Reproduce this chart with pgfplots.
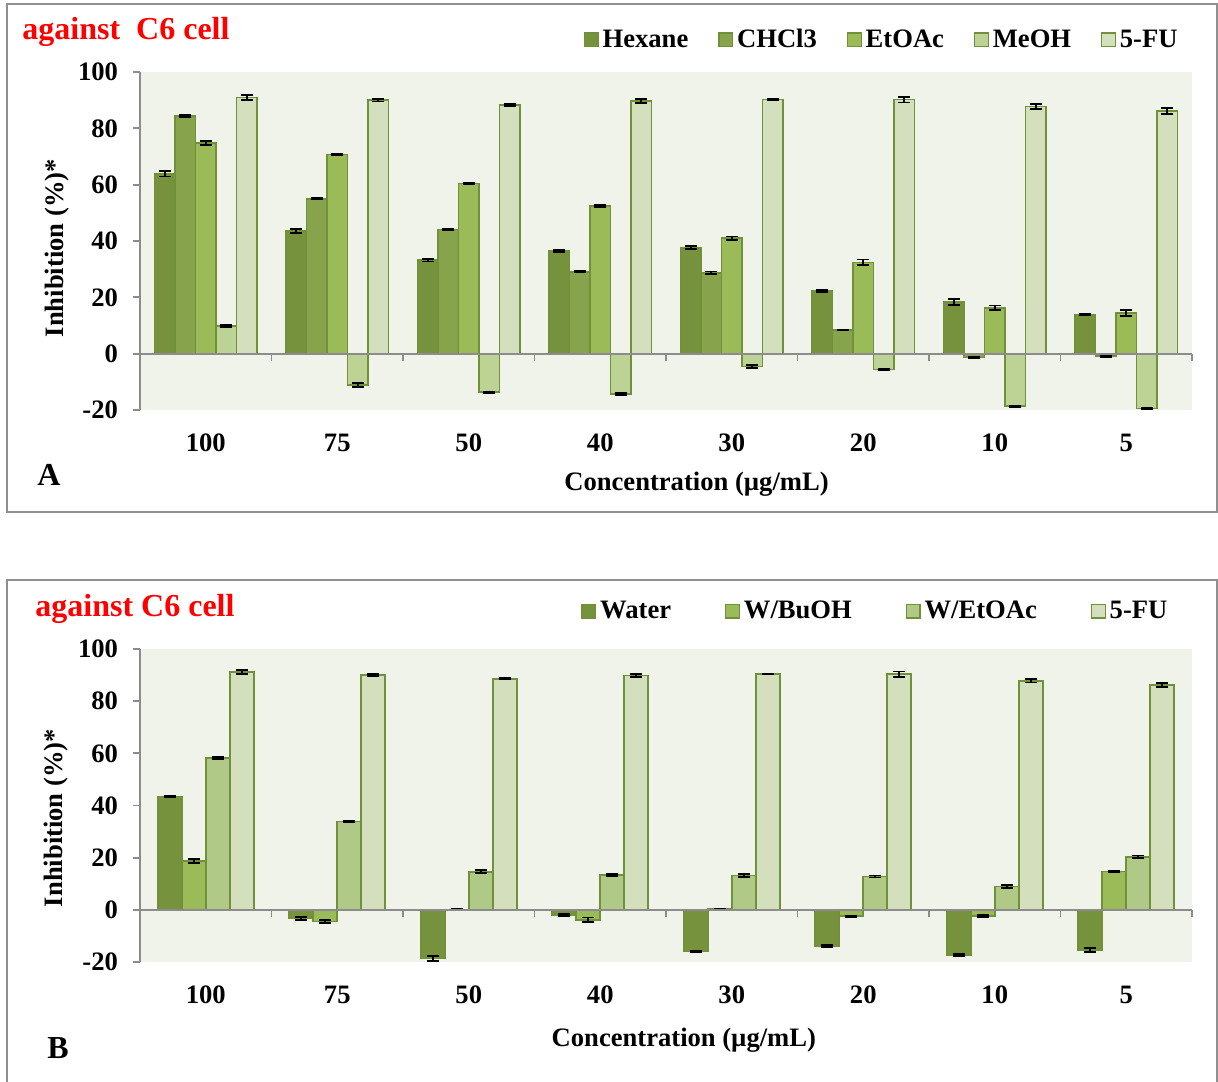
\documentclass[border=0pt]{standalone}
\usepackage{fontspec}
\setmainfont{Liberation Serif}
\usepackage{pgfplots}
\pgfplotsset{compat=1.18}
\usepackage{pgfplotstable}

\definecolor{cA}{HTML}{76923C}
\definecolor{cB}{HTML}{87A44C}
\definecolor{cC}{HTML}{9BBB59}
\definecolor{cD}{HTML}{BDD396}
\definecolor{cE}{HTML}{D3DFBD}
\definecolor{cF}{HTML}{B1C987}
\definecolor{edge}{HTML}{71903A}
\definecolor{bg}{HTML}{F0F3EA}
\definecolor{axisgray}{HTML}{8C8C8C}
\definecolor{framegray}{HTML}{8F8F8F}

\newcommand{\lbl}{\fontsize{13.3pt}{16pt}\selectfont\bfseries}
\newcommand{\ttl}{\fontsize{16pt}{19pt}\selectfont\bfseries}

% Inhibition (%) of the solvent fractions, mean and error
\pgfplotstableread{
x hex hexe chl chle eto etoe meo meoe fu fue
0 63.9 1.0 84.4 0.3 74.8 0.8   9.8 0.3 90.9 0.9
1 43.6 0.7 55.0 0.2 70.7 0.3 -11.1 0.8 90.0 0.5
2 33.2 0.5 44.1 0.3 60.4 0.3 -13.7 0.3 88.2 0.4
3 36.4 0.3 29.1 0.3 52.4 0.3 -14.4 0.4 89.7 0.6
4 37.6 0.5 28.7 0.5 41.0 0.6  -4.6 0.6 90.2 0.2
5 22.3 0.3  8.4 0.2 32.4 1.0  -5.6 0.3 90.2 1.0
6 18.3 1.0 -1.3 0.2 16.3 0.8 -18.6 0.2 87.7 0.8
7 13.9 0.3 -0.9 0.2 14.5 1.0 -19.5 0.3 86.1 1.0
}\tabA

% Inhibition (%) of the aqueous partitions, mean and error
\pgfplotstableread{
x wat wate buo buoe wet wete fu fue
0  43.5 0.3 18.8 0.7 58.2 0.3 91.2 0.8
1  -3.2 0.6 -4.5 0.6 33.8 0.2 90.1 0.4
2 -18.7 0.9  0.2 0.2 14.6 0.6 88.6 0.3
3  -2.0 0.4 -3.8 0.9 13.3 0.3 89.9 0.6
4 -16.0 0.2  0.3 0.1 13.2 0.6 90.4 0.2
5 -13.8 0.3 -2.4 0.2 12.8 0.4 90.4 1.0
6 -17.3 0.3 -2.4 0.3  9.0 0.6 87.8 0.6
7 -15.4 0.7 14.7 0.2 20.3 0.5 86.2 0.7
}\tabB

\pgfplotsset{
  sqlegend/.style={legend image code/.code={%
      \draw[##1,line width=0.6pt] (-1.5pt,-3.4pt) rectangle (5.3pt,3.4pt);}},
  bars/.style={draw=edge, line width=0.8pt, sqlegend,
    /pgfplots/error bars/y dir=both,
    /pgfplots/error bars/y explicit,
    /pgfplots/error bars/error bar style={black, line width=0.9pt},
    /pgfplots/error bars/error mark options={black, rotate=90, mark size=3pt, line width=0.9pt}},
  panel/.style={
    scale only axis, width=526pt,
    xmin=-0.5, xmax=7.5, ymin=-20, ymax=100,
    ytick={-20,0,20,40,60,80,100},
    yticklabels={-20,0,20,40,60,80,100},
    xtick={0,...,7}, xticklabels={100,75,50,40,30,20,10,5},
    axis y line*=left, axis x line*=bottom,
    x axis line style={draw=none},
    y axis line style={-, draw=axisgray, line width=0.9pt},
    major x tick style={draw=none},
    major y tick style={draw=axisgray, line width=0.9pt},
    tick align=outside, major tick length=3.5pt,
    axis background/.style={fill=bg},
    tick label style={font=\lbl},
    yticklabel style={xshift=-4pt},
    xticklabel style={yshift=-5pt},
    label style={font=\lbl},
    xlabel={Concentration (µg/mL)},
    ylabel={Inhibition (\%)*},
    clip=false,
    legend style={draw=none, fill=none, font=\lbl, anchor=center,
      /tikz/every even column/.append style={column sep=13pt}},
  },
}

\begin{document}
\begin{tikzpicture}
\useasboundingbox (0,0) rectangle (609pt,-540.5pt);

% panel frames
\draw[framegray, line width=0.8pt] (3.5pt,-2pt) rectangle (608.5pt,-256pt);
\draw[framegray, line width=0.8pt] (3.5pt,-541pt) -- (3.5pt,-290pt) -- (608.5pt,-290pt) -- (608.5pt,-541pt);

% panel titles and letters
\node[anchor=west, inner sep=0, text=red, font=\ttl] at (11pt,-16pt) {against\ \ C6 cell};
\node[anchor=west, inner sep=0, text=red, font=\ttl] at (17.5pt,-304.5pt) {against C6 cell};
\node[anchor=west, inner sep=0, font=\ttl] at (18.5pt,-237.5pt) {A};
\node[anchor=west, inner sep=0, font=\ttl] at (23.5pt,-524pt) {B};

% ---------- A: solvent fractions ----------
\begin{axis}[panel, at={(70pt,-205pt)}, anchor=south west, height=169pt,
  ybar=0pt, bar width=10.25pt,
  legend columns=5,
  legend style={at={(axis description cs:0.706,1.095)}},
  xlabel style={at={(axis description cs:0.529,-0.22)}, anchor=center},
  ylabel style={at={(axis description cs:-0.079,0.479)}, anchor=center}]
\addplot[fill=cA, bars] table[x=x, y=hex, y error=hexe] {\tabA};
\addplot[fill=cB, bars] table[x=x, y=chl, y error=chle] {\tabA};
\addplot[fill=cC, bars] table[x=x, y=eto, y error=etoe] {\tabA};
\addplot[fill=cD, bars] table[x=x, y=meo, y error=meoe] {\tabA};
\addplot[fill=cE, bars] table[x=x, y=fu,  y error=fue]  {\tabA};
\legend{Hexane, CHCl3, EtOAc, MeOH, 5-FU}
\draw[axisgray, line width=0.9pt] (axis cs:-0.5,0) -- (axis cs:7.5,0);
\pgfplotsinvokeforeach{0.5,1.5,2.5,3.5,4.5,5.5,6.5,7.5}{
  \draw[axisgray, line width=0.9pt] (axis cs:#1,0) -- ++(0pt,-3.5pt);}
\end{axis}

% ---------- B: aqueous partitions ----------
\begin{axis}[panel, at={(70pt,-481pt)}, anchor=south west, height=156.5pt,
  ybar=0pt, bar width=12pt,
  legend columns=4,
  legend style={at={(axis description cs:0.70,1.121)},
    /tikz/every even column/.append style={column sep=25pt}},
  xlabel style={at={(axis description cs:0.517,-0.249)}, anchor=center},
  ylabel style={at={(axis description cs:-0.080,0.46)}, anchor=center}]
\addplot[fill=cA, bars] table[x=x, y=wat, y error=wate] {\tabB};
\addplot[fill=cC, bars] table[x=x, y=buo, y error=buoe] {\tabB};
\addplot[fill=cF, bars] table[x=x, y=wet, y error=wete] {\tabB};
\addplot[fill=cE, bars] table[x=x, y=fu,  y error=fue]  {\tabB};
\legend{Water, W/BuOH, W/EtOAc, 5-FU}
\draw[axisgray, line width=0.9pt] (axis cs:-0.5,0) -- (axis cs:7.5,0);
\pgfplotsinvokeforeach{0.5,1.5,2.5,3.5,4.5,5.5,6.5,7.5}{
  \draw[axisgray, line width=0.9pt] (axis cs:#1,0) -- ++(0pt,-3.5pt);}
\end{axis}
\end{tikzpicture}
\end{document}
